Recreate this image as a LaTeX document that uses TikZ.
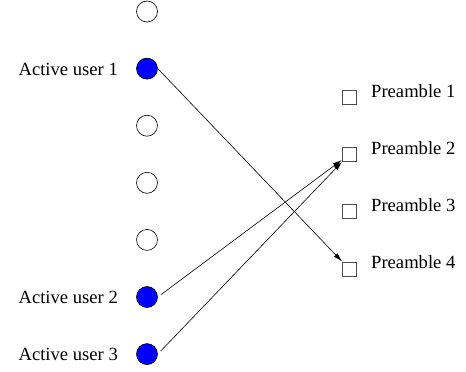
\documentclass[tikz,border=0pt]{standalone}
\usepackage{fontspec}
\setmainfont{Liberation Serif}
\usetikzlibrary{arrows.meta}
\begin{document}
\begin{tikzpicture}[x=1pt,y=-1pt,
  every node/.style={font=\fontsize{18.6}{22}\selectfont},
  idle/.style={circle,draw=black,line width=0.6pt,fill=white,minimum size=21pt,inner sep=0pt},
  active/.style={idle,fill=blue},
  pre/.style={rectangle,draw=black!70,line width=0.6pt,fill=white,minimum size=14pt,inner sep=0pt},
  lbl/.style={inner sep=0pt},
  link/.style={line width=0.6pt,-{Latex[length=9pt,width=5pt]}}]
\useasboundingbox (0,0) rectangle (466,372);
% users
\node[idle]   (c1) at (147,11.5) {};
\node[active] (u1) at (147,68.6) {};
\node[idle]   (c3) at (147,125.7) {};
\node[idle]   (c4) at (147,182.8) {};
\node[idle]   (c5) at (147,239.9) {};
\node[active] (u2) at (147,297) {};
\node[active] (u3) at (147,354.1) {};
\node[lbl,anchor=base east] (l1) at (118,75.3) {Active user 1};
\node[lbl,anchor=base east] (l2) at (118,303.7) {Active user 2};
\node[lbl,anchor=base east] (l3) at (118,360.8) {Active user 3};
% preambles
\node[pre] (p1) at (349,97.5) {};
\node[pre] (p2) at (349,154.6) {};
\node[pre] (p3) at (349,211.7) {};
\node[pre] (p4) at (349,268.8) {};
\node[lbl,anchor=base west] (t1) at (371,97) {Preamble 1};
\node[lbl,anchor=base west] (t2) at (371,154) {Preamble 2};
\node[lbl,anchor=base west] (t3) at (371,211) {Preamble 3};
\node[lbl,anchor=base west] (t4) at (371,268) {Preamble 4};
% links
\draw[link] (u1.east) -- (p4);
\draw[link,shorten <=4pt] (u2.east) -- (p2);
\draw[link,shorten <=4pt] (u3.east) -- (p2);
\end{tikzpicture}
\end{document}
